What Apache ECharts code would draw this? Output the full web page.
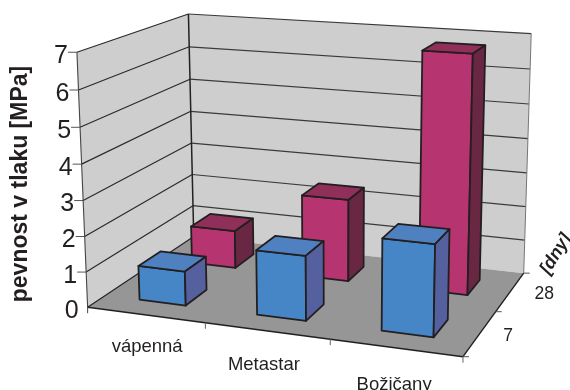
<!DOCTYPE html>
<html>
<head>
<meta charset="utf-8">
<style>html,body{margin:0;padding:0;background:#fff}#chart{width:570px;height:390px}</style>
<script src="https://cdn.jsdelivr.net/npm/echarts@6/dist/echarts.min.js"></script>
</head>
<body>
<div id="chart"></div>
<script>
// Compressive strength by binder and curing age, drawn as a perspective bar chart.
const categories = ['vápenná', 'Metastar', 'Božičany'];
const ageLabels = ['7', '28'];
const strength7 = [0.97, 1.8, 2.5];
const strength28 = [1.12, 2.4, 6.78];
const strengthTicks = [0, 1, 2, 3, 4, 5, 6, 7];
const valueTitle = 'pevnost v tlaku [MPa]';
const depthTitle = '[dny]';

const FONT = '"Liberation Sans", Arial, sans-serif';
const INK = '#231f20';
const W = 570, H = 390;
const CAT_MAX = categories.length, DEPTH_MAX = ageLabels.length, VAL_MAX = 7;

// Camera calibration: [category, depth, value] -> screen point.
const cameraAnchors = [
  [[0, 0, 0], [88, 306]], [[3, 0, 0], [463, 357]], [[3, 2, 0], [523, 272]], [[0, 2, 0], [193.5, 238]],
  [[0, 0, 7], [76.5, 53]], [[0, 2, 7], [189, 13]], [[3, 2, 7], [531, 34]],
  [[1, 0, 0], [205, 322]], [[2, 0, 0], [330, 340]], [[3, 1, 0], [497, 312]]
];

// Least-squares fit of a 3x4 projective matrix (last coefficient fixed to 1).
function fitCamera(anchors) {
  const n = 11, A = [], b = [];
  anchors.forEach(function (a) {
    const x = a[0][0], z = a[0][1], y = a[0][2], sx = a[1][0], sy = a[1][1];
    A.push([x, z, y, 1, 0, 0, 0, 0, -sx * x, -sx * z, -sx * y]); b.push(sx);
    A.push([0, 0, 0, 0, x, z, y, 1, -sy * x, -sy * z, -sy * y]); b.push(sy);
  });
  const M = [];
  for (let i = 0; i < n; i++) {
    M.push(new Array(n + 1).fill(0));
    for (let j = 0; j < n; j++) for (let k = 0; k < A.length; k++) M[i][j] += A[k][i] * A[k][j];
    for (let k = 0; k < A.length; k++) M[i][n] += A[k][i] * b[k];
  }
  for (let c = 0; c < n; c++) {
    let piv = c;
    for (let r = c + 1; r < n; r++) if (Math.abs(M[r][c]) > Math.abs(M[piv][c])) piv = r;
    const t = M[c]; M[c] = M[piv]; M[piv] = t;
    for (let r = 0; r < n; r++) {
      if (r === c) continue;
      const f = M[r][c] / M[c][c];
      for (let j = c; j <= n; j++) M[r][j] -= f * M[c][j];
    }
  }
  return M.map(function (row, i) { return row[n] / row[i]; });
}
const cam = fitCamera(cameraAnchors);

function project(x, z, y) {
  const w = cam[8] * x + cam[9] * z + cam[10] * y + 1;
  return [(cam[0] * x + cam[1] * z + cam[2] * y + cam[3]) / w,
          (cam[4] * x + cam[5] * z + cam[6] * y + cam[7]) / w];
}

// Reads the category and value position through the chart's axes, then projects it.
function at(api, x, depth, value) {
  const p = api.coord([x, value]);
  return project(p[0] / W * CAT_MAX, depth, (1 - p[1] / H) * VAL_MAX);
}
function poly(points, fill, stroke, lw) {
  return { type: 'polygon', shape: { points: points },
    style: { fill: fill, stroke: stroke || 'none', lineWidth: lw || 0, lineJoin: 'round' } };
}
function seg(a, b, stroke, lw) {
  return { type: 'line', shape: { x1: a[0], y1: a[1], x2: b[0], y2: b[1] },
    style: { stroke: stroke, lineWidth: lw, fill: null } };
}
function label(text, x, y, size, extra) {
  return Object.assign({ type: 'text', x: x, y: y,
    style: { text: text, font: (extra && extra.weight || 'normal') + ' ' + size + 'px ' + FONT,
      fill: INK, textAlign: (extra && extra.align) || 'center', textVerticalAlign: 'middle' } },
    extra && extra.rotation ? { rotation: extra.rotation } : {});
}

function renderFrame(params, api) {
  const c = [];
  const fl = at(api, 0, 0, 0), fr = at(api, CAT_MAX, 0, 0), br = at(api, CAT_MAX, DEPTH_MAX, 0), bl = at(api, 0, DEPTH_MAX, 0);
  const flT = at(api, 0, 0, VAL_MAX), blT = at(api, 0, DEPTH_MAX, VAL_MAX), brT = at(api, CAT_MAX, DEPTH_MAX, VAL_MAX);
  c.push(poly([fl, flT, blT, bl], '#cecece'));
  c.push(poly([bl, blT, brT, br], '#cecece'));
  c.push(poly([fl, fr, br, bl], '#969696'));
  strengthTicks.forEach(function (v) {
    if (v === 0) return;
    const a = at(api, 0, 0, v), b = at(api, 0, DEPTH_MAX, v), d = at(api, CAT_MAX, DEPTH_MAX, v);
    c.push(seg(a, b, '#2a2a2a', 1.2), seg(b, d, '#3a3a3a', 1.2));
    c.push(seg([a[0] - 9, a[1]], a, '#555', 1));
  });
  c.push(seg(fl, flT, '#444', 1.1), seg(bl, blT, '#222', 1.5), seg(br, brT, '#777', 1));
  c.push(seg(fl, fr, INK, 1.4), seg(fr, br, INK, 1.4), seg(fl, bl, INK, 1.1));
  c.push(seg(fl, [fl[0], fl[1] + 6], '#444', 1));
  for (let i = 1; i <= CAT_MAX; i++) {
    const p = at(api, i, 0, 0);
    c.push(seg(p, [p[0], p[1] + 6], '#666', 1));
  }
  for (let d = 0; d <= DEPTH_MAX; d++) {
    const p = at(api, CAT_MAX, d, 0);
    c.push(seg(p, [p[0] + 6, p[1]], '#555', 1));
  }
  return { type: 'group', children: c };
}

function renderLabels(params, api) {
  const c = [];
  strengthTicks.forEach(function (v) {
    const p = at(api, 0, 0, v);
    c.push(label(String(v), p[0] - 9, p[1] + 4, 25, { align: 'right' }));
  });
  categories.forEach(function (name, i) {
    const p = at(api, i + 0.5, 0, 0);
    c.push(label(name, p[0] + [1.5, -3, -1.5][i], p[1] + [32, 34, 37][i], 18.5));
  });
  ageLabels.forEach(function (name, i) {
    const p = at(api, CAT_MAX, i + 0.5, 0);
    c.push(label(name, p[0] + [28, 34][i], p[1] + [3, 2][i], 17.5));
  });
  c.push(label(valueTitle, 21, 184, 23, { weight: 'bold', rotation: Math.PI / 2 }));
  c.push(label(depthTitle, 556, 254, 18, { weight: 'italic bold', rotation: 1.02 }));
  return { type: 'group', children: c };
}

// One box per value: front, top and right-hand faces around a centred footprint.
function barRenderer(depth, colors) {
  return function (params, api) {
    const i = api.value(0), h = api.value(1);
    const x0 = i + 0.3, x1 = i + 0.7, z0 = depth + 0.3, z1 = depth + 0.7;
    const sw = 1.8;
    const a0 = at(api, x0, z0, 0), b0 = at(api, x1, z0, 0), c0 = at(api, x1, z1, 0);
    const a1 = at(api, x0, z0, h), b1 = at(api, x1, z0, h), c1 = at(api, x1, z1, h), d1 = at(api, x0, z1, h);
    return { type: 'group', children: [
      poly([a0, b0, b1, a1], colors[0], INK, sw),
      poly([a1, b1, c1, d1], colors[1], INK, sw),
      poly([b0, c0, c1, b1], colors[2], INK, sw)
    ] };
  };
}
function barData(values) { return values.map(function (v, i) { return [i, v]; }); }

const chart = echarts.init(document.getElementById('chart'), null, { renderer: 'canvas' });
chart.setOption({
  backgroundColor: '#ffffff',
  animation: false,
  grid: { left: 0, right: 0, top: 0, bottom: 0 },
  xAxis: { type: 'value', min: 0, max: CAT_MAX, show: false },
  yAxis: { type: 'value', min: 0, max: VAL_MAX, interval: 1, show: false },
  series: [
    { type: 'custom', name: 'frame', clip: false, silent: true, data: [[0, 0]], renderItem: renderFrame, z: 1 },
    { type: 'custom', name: ageLabels[1], clip: false, silent: true, data: barData(strength28),
      renderItem: barRenderer(1, ['#b63470', '#8f2f5a', '#6a2743']), z: 2 },
    { type: 'custom', name: ageLabels[0], clip: false, silent: true, data: barData(strength7),
      renderItem: barRenderer(0, ['#4686c6', '#4f80c0', '#55619f']), z: 3 },
    { type: 'custom', name: 'labels', clip: false, silent: true, data: [[0, 0]], renderItem: renderLabels, z: 4 }
  ]
});
</script>
</body>
</html>
